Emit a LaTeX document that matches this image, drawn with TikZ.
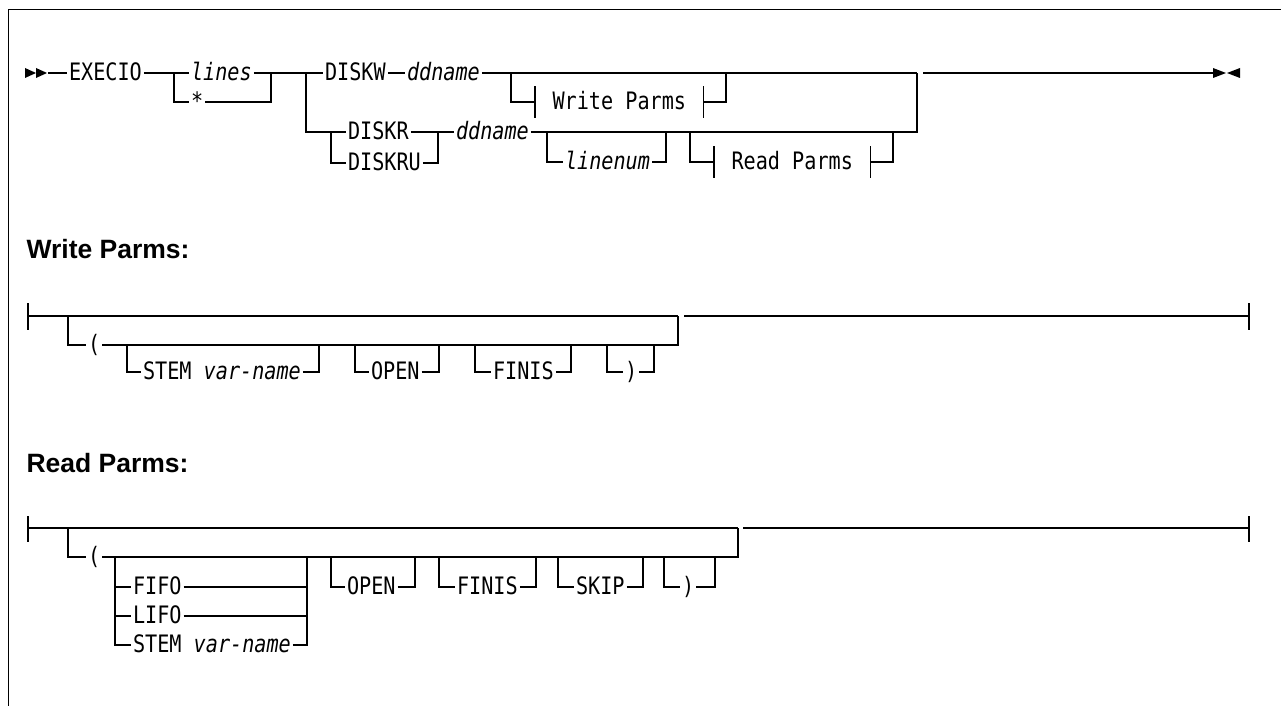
\documentclass[tikz,border=0pt]{standalone}
\usepackage{fontspec}
\setmonofont[FakeStretch=0.84]{DejaVu Sans Mono}
\newfontfamily\headfont{Liberation Sans}
\usepackage{tikz}

\begin{document}
\begin{tikzpicture}[
    x=1pt, y=-1pt,
    line width=1.1pt,
    kw/.style={anchor=west, font=\ttfamily\fontsize{24}{27}\selectfont, inner xsep=1.5pt, inner ysep=0pt, text height=15.8pt, text depth=0pt},
    var/.style={kw, font=\ttfamily\itshape\fontsize{24}{27}\selectfont},
    refbox/.style={kw, inner xsep=17pt, minimum height=30pt},
    head/.style={anchor=base west, inner sep=0pt, font=\headfont\bfseries\fontsize{26.5}{30}\selectfont}
]
\useasboundingbox (0,0) rectangle (1281,706);
\draw[line width=1pt] (8,706) -- (8,9.5) -- (1281,9.5);

% EXECIO statement
\coordinate (go) at (48,73);
\coordinate (lsplit) at (174,73);
\coordinate (ljoin) at (271,73);
\coordinate (dsplit) at (306,73);
\coordinate (wsplit) at (511,73);
\coordinate (wjoin) at (726,73);
\coordinate (rsplit) at (331,132);
\coordinate (rjoin) at (438,132);
\coordinate (nsplit) at (547,132);
\coordinate (njoin) at (666,132);
\coordinate (psplit) at (690,132);
\coordinate (pjoin) at (893,132);
\coordinate (mjoin) at (917,73);
\coordinate (mout) at (923,73);
\coordinate (stop) at (1213,73);

\fill (25,68) -- (36,73) -- (25,78) -- cycle (36,68) -- (47,73) -- (36,78) -- cycle;
\fill (1213,68) -- (1226,73) -- (1213,78) -- cycle (1240,68) -- (1227,73) -- (1240,78) -- cycle;

\node[kw] (execio) at (67,73) {EXECIO};
\node[var] (lines) at (189,73) {lines};
\node[kw] (star) at (189,102) {*};
\node[kw] (diskw) at (323,73) {DISKW};
\node[var] (ddw) at (405,73) {ddname};
\node[refbox] (wref) at (535,102) {Write Parms};
\node[kw] (diskr) at (346,132) {DISKR};
\node[kw] (diskru) at (346,163) {DISKRU};
\node[var] (ddr) at (454,132) {ddname};
\node[var] (linenum) at (563,162) {linenum};
\node[refbox] (rref) at (714,162) {Read Parms};

\draw (go) -- (execio.west) (execio.east) -- (lines.west) (lines.east) -- (diskw.west)
      (diskw.east) -- (ddw.west) (ddw.east) -- (mjoin);
\draw (lsplit) |- (star.west) (star.east) -| (ljoin);
\draw (wsplit) |- (wref.west) (wref.east) -| (wjoin);
\draw (wref.north west) -- (wref.south west) (wref.north east) -- (wref.south east);
\draw (dsplit) |- (diskr.west) (rsplit) |- (diskru.west);
\draw (diskr.east) -- (ddr.west) (diskru.east) -| (rjoin);
\draw (ddr.east) -| (mjoin);
\draw (nsplit) |- (linenum.west) (linenum.east) -| (njoin);
\draw (psplit) |- (rref.west) (rref.east) -| (pjoin);
\draw (rref.north west) -- (rref.south west) (rref.north east) -- (rref.south east);
\draw (mout) -- (stop);

% Write Parms
\node[head] (whead) at (26,258) {Write Parms:};
\coordinate (wstart) at (28,316);
\coordinate (wopt) at (68,316);
\coordinate (wback) at (678,316);
\coordinate (wout) at (684,316);
\coordinate (wend) at (1249,316);
\node[kw] (wpar) at (86,345) {(};
\node[kw] (wstem) at (141,372) {STEM \textit{var-name}};
\node[kw] (wopen) at (369,372) {OPEN};
\node[kw] (wfinis) at (491,372) {FINIS};
\node[kw] (wclose) at (623,372) {)};

\draw (28,303) -- (28,330) (1249,303) -- (1249,330);
\draw (wstart) -- (wback) (wout) -- (wend);
\draw (wopt) |- (wpar.west) (wpar.east) -| (wback);
\draw (127,345) |- (wstem.west) (wstem.east) -| (319,345);
\draw (355,345) |- (wopen.west) (wopen.east) -| (439,345);
\draw (475,345) |- (wfinis.west) (wfinis.east) -| (571,345);
\draw (607,345) |- (wclose.west) (wclose.east) -| (654,345);

% Read Parms
\node[head] (rhead) at (26,472) {Read Parms:};
\coordinate (rstart) at (28,528);
\coordinate (ropt) at (68,528);
\coordinate (rback) at (738,528);
\coordinate (rout) at (743,528);
\coordinate (rend) at (1249,528);
\node[kw] (rpar) at (86,557) {(};
\node[kw] (fifo) at (131,587) {FIFO};
\node[kw] (lifo) at (131,616) {LIFO};
\node[kw] (rstem) at (131,645) {STEM \textit{var-name}};
\node[kw] (ropen) at (345,587) {OPEN};
\node[kw] (rfinis) at (455,587) {FINIS};
\node[kw] (skip) at (574,587) {SKIP};
\node[kw] (rclose) at (680,587) {)};

\draw (28,516) -- (28,542) (1249,516) -- (1249,542);
\draw (rstart) -- (rback) (rout) -- (rend);
\draw (ropt) |- (rpar.west) (rpar.east) -| (rback);
\draw (115,557) |- (rstem.west) (115,587) -- (fifo.west) (115,616) -- (lifo.west);
\draw (fifo.east) -- (307,587) (lifo.east) -- (307,616) (rstem.east) -| (307,557);
\draw (331,557) |- (ropen.west) (ropen.east) -| (415,557);
\draw (439,557) |- (rfinis.west) (rfinis.east) -| (536,557);
\draw (558,557) |- (skip.west) (skip.east) -| (643,557);
\draw (664,557) |- (rclose.west) (rclose.east) -| (715,557);

\end{tikzpicture}
\end{document}
